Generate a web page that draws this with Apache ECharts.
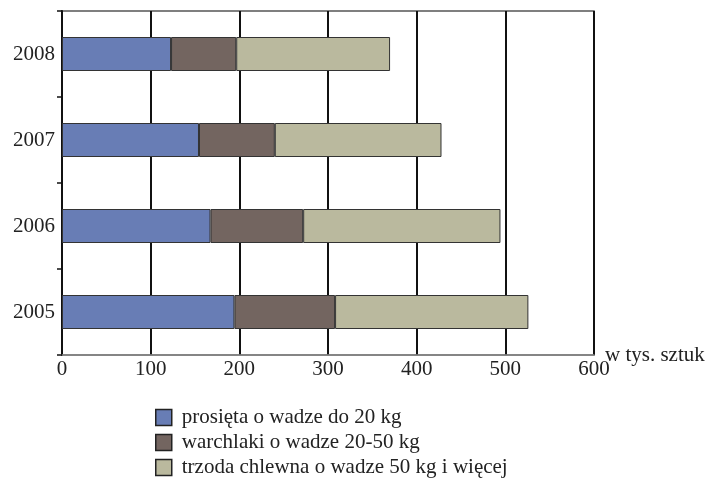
<!DOCTYPE html>
<html>
<head>
<meta charset="utf-8">
<script src="https://cdn.jsdelivr.net/npm/echarts@6/dist/echarts.min.js"></script>
<style>html,body{margin:0;padding:0;background:#fff;}#c{width:711px;height:490px;}</style>
</head>
<body>
<div id="c"></div>
<script>
var years = ['2005', '2006', '2007', '2008'];
var seriesNames = ['prosięta o wadze do 20 kg', 'warchlaki o wadze 20-50 kg', 'trzoda chlewna o wadze 50 kg i więcej'];
var prosieta = [194.5, 167.5, 154.5, 123];
var warchlaki = [113.5, 104.5, 85.5, 73.5];
var trzoda = [218, 222.5, 188, 173.5];
var xTicks = [0, 100, 200, 300, 400, 500, 600];
var colors = ['#687DB5', '#736560', '#BAB99E'];
var serif = '"Liberation Serif", "DejaVu Serif", serif';

var chart = echarts.init(document.getElementById('c'));
var values = [prosieta, warchlaki, trzoda];
chart.setOption({
  animation: false,
  grid: { left: 62, right: 117, top: 11, bottom: 135, containLabel: false, outerBoundsMode: 'none',
          show: true, borderColor: '#555', borderWidth: 1.5 },
  xAxis: {
    type: 'value', min: xTicks[0], max: xTicks[xTicks.length - 1], interval: 100,
    name: 'w tys. sztuk', nameLocation: 'end', nameGap: 11, nameMoveOverlap: false,
    nameTextStyle: { fontFamily: serif, fontSize: 21, color: '#222', verticalAlign: 'middle' },
    axisLine: { show: true, lineStyle: { color: '#888', width: 1.5 } },
    axisTick: { show: false },
    axisLabel: { fontFamily: serif, fontSize: 21, color: '#222', margin: 4 },
    splitLine: { show: true, lineStyle: { color: '#111', width: 2 } }
  },
  yAxis: {
    type: 'category', data: years,
    axisLine: { show: true, lineStyle: { color: '#111', width: 2 } },
    axisTick: { show: true, length: 5, lineStyle: { color: '#111', width: 1.5 } },
    axisLabel: { fontFamily: serif, fontSize: 21, color: '#222', margin: 7 },
    splitLine: { show: false }
  },
  legend: {
    orient: 'vertical', left: 155, top: 407, padding: 0,
    itemWidth: 16, itemHeight: 16, itemGap: 4,
    icon: 'rect',
    itemStyle: { borderColor: '#222', borderWidth: 1.5 },
    textStyle: { fontFamily: serif, fontSize: 21, lineHeight: 21, color: '#222', padding: [0, 0, 0, 5] },
    data: seriesNames
  },
  series: seriesNames.map(function (n, i) {
    return {
      name: n, type: 'bar', stack: 'total', barWidth: 34,
      data: values[i],
      itemStyle: { color: colors[i], borderColor: '#333', borderWidth: 1 }
    };
  })
});
</script>
</body>
</html>
